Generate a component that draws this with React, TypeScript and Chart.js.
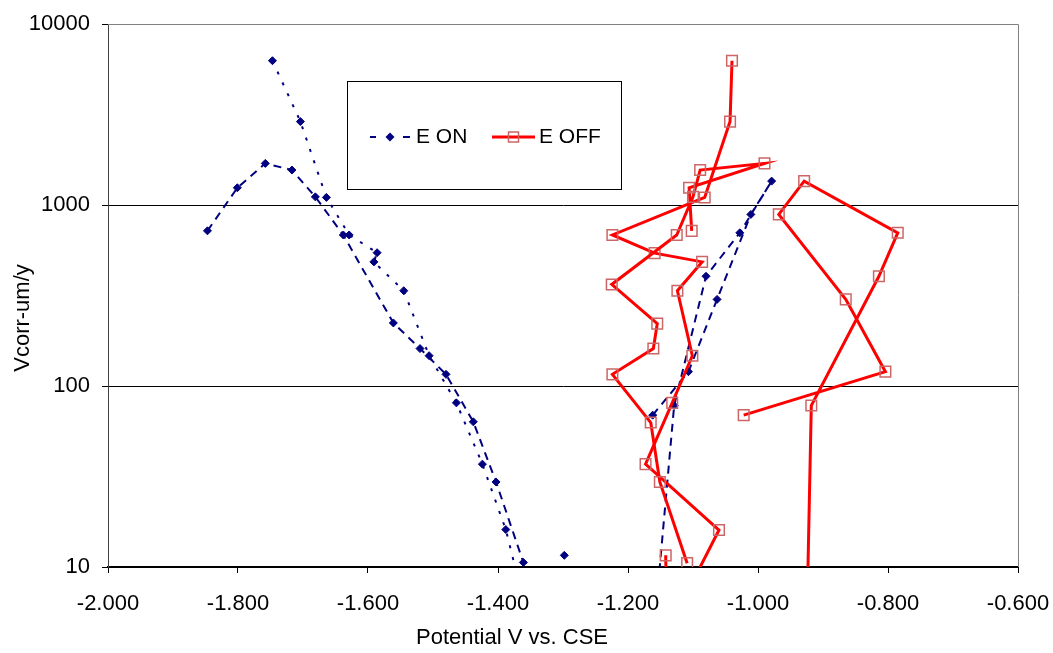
import React, { useEffect, useRef } from 'react';
import { Chart, registerables } from 'chart.js';

Chart.register(...registerables);

// ---- Data ----
const xTickValues = [-2.0, -1.8, -1.6, -1.4, -1.2, -1.0, -0.8, -0.6];
const yTickValues = [10, 100, 1000, 10000];

const xTitle = 'Potential V vs. CSE';
const yTitle = 'Vcorr-um/y';
const labelOn = 'E ON';
const labelOff = 'E OFF';

// E ON, run A (dashed)
const onA_x = [-1.847, -1.801, -1.758, -1.717, -1.681, -1.638, -1.561, -1.52, -1.48, -1.438, -1.403, -1.361];
const onA_y = [720, 1245, 1698, 1560, 1109, 683, 223, 161, 116, 63.4, 29.5, 10.6];
// E OFF, run A
const offA_x = [-1.102, -1.106, -0.99, -1.089, -1.1, -1.125, -1.225, -1.155, -1.161, -1.224, -1.165, -1.151, -1.109];
const offA_y = [720, 1245, 1698, 1560, 1109, 683, 364, 221, 161, 116, 62.8, 29.5, 10.5];

// E ON, run B (dotted)
const onB_x = [-1.747, -1.704, -1.664, -1.629, -1.586, -1.591, -1.545, -1.506, -1.464, -1.424, -1.388, -1.363];
const onB_y = [6270, 2890, 1101, 683, 545, 485, 336, 147, 80.7, 37, 16.1, 7];
// E OFF, run B
const offB_x = [-1.04, -1.043, -1.082, -1.224, -1.159, -1.086, -1.124, -1.101, -1.132, -1.173, -1.06, -1.111];
const offB_y = [6270, 2890, 1101, 683, 542, 485, 336, 147, 80.7, 37, 16.0, 7];

// run C (single point)
const onC_x = [-1.298];
const onC_y = [11.6];
const offC_x = [-1.142, -1.141];
const offC_y = [11.6, 7];

// run D (right-hand group)
const onD_x = [-1.162, -1.107, -1.063, -1.011, -0.979, -1.028, -1.08, -1.129, -1.155];
const onD_y = [69, 120, 301, 887, 1355, 702, 404, 78, 7];
const offD_x = [-1.022, -0.804, -0.865, -0.968, -0.929, -0.785, -0.814, -0.918, -0.924];
const offD_y = [69, 120, 301, 887, 1355, 702, 404, 78, 7];

// ---- Styles ----
const FONT = '"Liberation Sans", Arial, Helvetica, sans-serif';
const NAVY = '#000080';
const RED = '#ff0000';
const SQUARE = '#cc6666';

const zip = (xs: number[], ys: number[]) => xs.map((x, i) => ({ x, y: ys[i] }));

const onStyle = (dash: number[]) => ({
  showLine: true,
  borderColor: NAVY,
  backgroundColor: NAVY,
  borderWidth: 2,
  borderDash: dash,
  pointStyle: 'rectRot',
  pointRadius: 4,
  pointBorderWidth: 1,
  pointBorderColor: NAVY,
  pointBackgroundColor: NAVY,
  tension: 0,
});

const offStyle = {
  showLine: true,
  borderColor: RED,
  backgroundColor: 'rgba(0,0,0,0)',
  borderWidth: 3,
  pointStyle: 'rect',
  pointRadius: 7.5,
  pointBorderWidth: 1.5,
  pointBorderColor: SQUARE,
  pointBackgroundColor: 'rgba(0,0,0,0)',
  tension: 0,
};

const decorPlugin = {
  id: 'decor',
  beforeDatasetsDraw(chart: any) {
    const { ctx, chartArea: a } = chart;
    ctx.save();
    ctx.strokeStyle = '#808080';
    ctx.lineWidth = 1;
    ctx.beginPath();
    ctx.moveTo(a.left, Math.round(a.top) + 0.5);
    ctx.lineTo(Math.round(a.right) + 0.5, Math.round(a.top) + 0.5);
    ctx.lineTo(Math.round(a.right) + 0.5, a.bottom);
    ctx.stroke();
    ctx.restore();
  },
  afterDraw(chart: any) {
    const { ctx } = chart;
    ctx.save();
    // axis titles
    ctx.fillStyle = '#000';
    ctx.font = `22px ${FONT}`;
    ctx.textAlign = 'center';
    ctx.textBaseline = 'middle';
    ctx.fillText(xTitle, 512, 638);
    ctx.save();
    ctx.translate(23, 318);
    ctx.rotate(-Math.PI / 2);
    ctx.fillText(yTitle, 0, 0);
    ctx.restore();

    // legend box
    const lx = 347.5, ly = 81.5, lw = 274, lh = 108;
    ctx.fillStyle = '#fff';
    ctx.fillRect(lx, ly, lw, lh);
    ctx.strokeStyle = '#000';
    ctx.lineWidth = 1;
    ctx.strokeRect(lx, ly, lw, lh);
    const cy = 137;
    // E ON sample
    ctx.strokeStyle = NAVY;
    ctx.lineWidth = 2;
    ctx.beginPath();
    ctx.moveTo(370, cy); ctx.lineTo(376, cy);
    ctx.moveTo(403, cy); ctx.lineTo(410, cy);
    ctx.stroke();
    ctx.fillStyle = NAVY;
    ctx.beginPath();
    ctx.moveTo(390, cy - 4.5); ctx.lineTo(394.5, cy); ctx.lineTo(390, cy + 4.5); ctx.lineTo(385.5, cy);
    ctx.closePath();
    ctx.fill();
    ctx.fillStyle = '#000';
    ctx.font = `21px ${FONT}`;
    ctx.textAlign = 'left';
    ctx.textBaseline = 'middle';
    ctx.fillText(labelOn, 416, cy);
    // E OFF sample
    ctx.strokeStyle = RED;
    ctx.lineWidth = 3;
    ctx.beginPath();
    ctx.moveTo(492, cy); ctx.lineTo(535, cy);
    ctx.stroke();
    ctx.strokeStyle = SQUARE;
    ctx.lineWidth = 1.5;
    ctx.strokeRect(508.5, cy - 5, 10, 10);
    ctx.fillStyle = '#000';
    ctx.fillText(labelOff, 539, cy);
    ctx.restore();
  },
};

export default function App() {
  const canvasRef = useRef<HTMLCanvasElement | null>(null);

  useEffect(() => {
    if (!canvasRef.current) return;
    Chart.defaults.font.family = FONT;
    const chart = new Chart(canvasRef.current, {
      type: 'scatter',
      data: {
        datasets: [
          { label: labelOff, data: zip(offA_x, offA_y), ...offStyle },
          { label: labelOff + ' B', data: zip(offB_x, offB_y), ...offStyle },
          { label: labelOff + ' C', data: zip(offC_x, offC_y), ...offStyle },
          { label: labelOff + ' D', data: zip(offD_x, offD_y), ...offStyle },
          { label: labelOn, data: zip(onA_x, onA_y), ...onStyle([8, 6]) },
          { label: labelOn + ' B', data: zip(onB_x, onB_y), ...onStyle([3, 9]) },
          { label: labelOn + ' C', data: zip(onC_x, onC_y), ...onStyle([8, 6]) },
          { label: labelOn + ' D', data: zip(onD_x, onD_y), ...onStyle([8, 6]) },
        ] as any,
      },
      options: {
        responsive: false,
        animation: false,
        layout: { padding: { left: 0, top: 24, right: 35, bottom: 0 } },
        plugins: {
          legend: { display: false },
          tooltip: { enabled: false },
          title: { display: false },
        },
        scales: {
          x: {
            type: 'linear',
            min: -2,
            max: -0.6,
            afterBuildTicks: (s: any) => {
              s.ticks = xTickValues.map((v) => ({ value: v }));
            },
            afterFit: (s: any) => {
              s.height = 86;
              s.paddingLeft = 0;
              s.paddingRight = 0;
            },
            ticks: {
              color: '#000',
              font: { size: 22, family: FONT },
              padding: 18,
              maxRotation: 0,
              autoSkip: false,
              callback: (v: any) => Number(v).toFixed(3),
            },
            grid: {
              drawOnChartArea: false,
              drawTicks: true,
              tickLength: 6,
              tickColor: '#000',
              color: '#000',
            },
            border: { display: true, color: '#000', width: 2 },
            title: { display: false },
          },
          y: {
            type: 'logarithmic',
            min: 10,
            max: 10000,
            afterBuildTicks: (s: any) => {
              s.ticks = yTickValues.map((v) => ({ value: v }));
            },
            afterFit: (s: any) => {
              s.width = 108;
              s.paddingTop = 0;
              s.paddingBottom = 0;
            },
            ticks: {
              color: '#000',
              font: { size: 22, family: FONT },
              padding: 12,
              autoSkip: false,
              callback: (v: any) => String(v),
            },
            grid: {
              drawTicks: true,
              tickLength: 6,
              tickColor: '#000',
              lineWidth: 1,
              color: (ctx: any) => (ctx.tick && ctx.tick.value === 10000 ? '#808080' : '#000'),
            },
            border: { display: true, color: '#404040', width: 1 },
            title: { display: false },
          },
        },
      } as any,
      plugins: [decorPlugin],
    });
    return () => chart.destroy();
  }, []);

  return (
    <div style={{ position: 'absolute', left: 0, top: 0, width: 1053, height: 653, background: '#fff' }}>
      <canvas ref={canvasRef} width={1053} height={653} style={{ display: 'block' }} />
    </div>
  );
}
